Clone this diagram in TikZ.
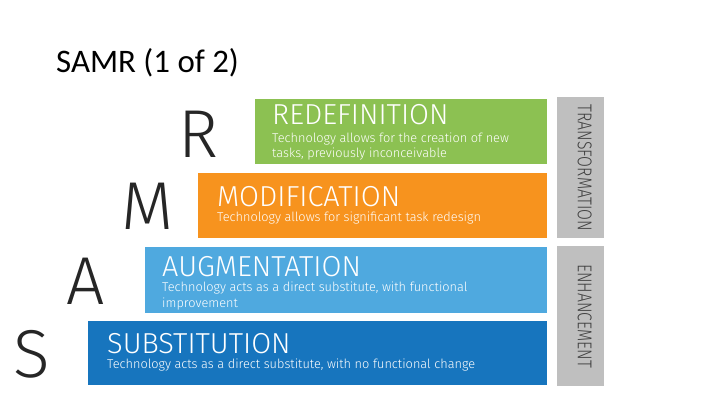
\documentclass[tikz,border=0pt]{standalone}
\usepackage{fontspec}
\setmainfont{Carlito}
\newfontfamily\lightfont{Fira Sans Light}
\usetikzlibrary{positioning}
\definecolor{redefgreen}{HTML}{8CC152}
\definecolor{modorange}{HTML}{F7931E}
\definecolor{auglight}{HTML}{4FA9DF}
\definecolor{subdark}{HTML}{1775BE}
\definecolor{sidegray}{HTML}{BFBFBF}
\definecolor{sidetext}{HTML}{404040}
\tikzset{
  stagebox/.style={fill=#1,draw=none,anchor=north west,inner sep=0pt},
  stagetitle/.style={anchor=base west,inner sep=0pt,text=white,
    font=\lightfont\fontsize{29}{32}\selectfont},
  stagetext/.style={anchor=north west,inner sep=0pt,text=white,align=left,
    font=\lightfont\fontsize{12.8}{15.5}\selectfont},
  bigletter/.style={anchor=base west,inner sep=0pt,text=black!85,
    font=\lightfont\fontsize{68}{70}\selectfont},
  sidebar/.style={fill=sidegray,draw=none,anchor=north west,inner sep=0pt},
  sidelabel/.style={rotate=-90,xscale=0.79,inner sep=0pt,text=sidetext,
    font=\lightfont\fontsize{20}{22}\selectfont}
}
\begin{document}
\begin{tikzpicture}[x=1bp,y=-1bp]
\useasboundingbox[fill=white] (0,0) rectangle (720,405);
% title
\node[anchor=base west,inner sep=0pt,font=\fontsize{33}{36}\selectfont] (title) at (56,72) {SAMR (1 of 2)};
% stage boxes
\node[stagebox=redefgreen,minimum width=292bp,minimum height=65bp] (redef) at (255,99) {};
\node[stagebox=modorange,minimum width=349bp,minimum height=65bp] (modif) at (198,173) {};
\node[stagebox=auglight,minimum width=402bp,minimum height=66bp] (augm) at (145,247) {};
\node[stagebox=subdark,minimum width=459bp,minimum height=64bp] (subst) at (88,321) {};
% box texts
\node[stagetitle] (redefT) at (272,124) {REDEFINITION};
\node[stagetext] at ([yshift=-8.5bp]redefT.base west) {Technology allows for the creation of new\\tasks, previously inconceivable};
\node[stagetitle] (modifT) at (217,206) {MODIFICATION};
\node[stagetext] at ([yshift=-6bp]modifT.base west) {Technology allows for significant task redesign};
\node[stagetitle] (augmT) at (162,276) {AUGMENTATION};
\node[stagetext] at ([yshift=-6bp]augmT.base west) {Technology acts as a direct substitute, with functional\\improvement};
\node[stagetitle] (substT) at (107,353) {SUBSTITUTION};
\node[stagetext] at ([yshift=-6bp]substT.base west) {Technology acts as a direct substitute, with no functional change};
% letters
\node[bigletter] (letR) at (178,157) {R};
\node[bigletter] (letM) at (121,229) {M};
\node[bigletter] (letA) at (66,304) {A};
\node[bigletter] (letS) at (13,377) {S};
% side bars
\node[sidebar,minimum width=47bp,minimum height=141bp] (trans) at (557,97) {};
\node[sidebar,minimum width=47bp,minimum height=140bp] (enh) at (557,246) {};
\node[sidelabel] at ([xshift=4bp]trans.center) {TRANSFORMATION};
\node[sidelabel] at ([xshift=4bp]enh.center) {ENHANCEMENT};
\end{tikzpicture}
\end{document}
